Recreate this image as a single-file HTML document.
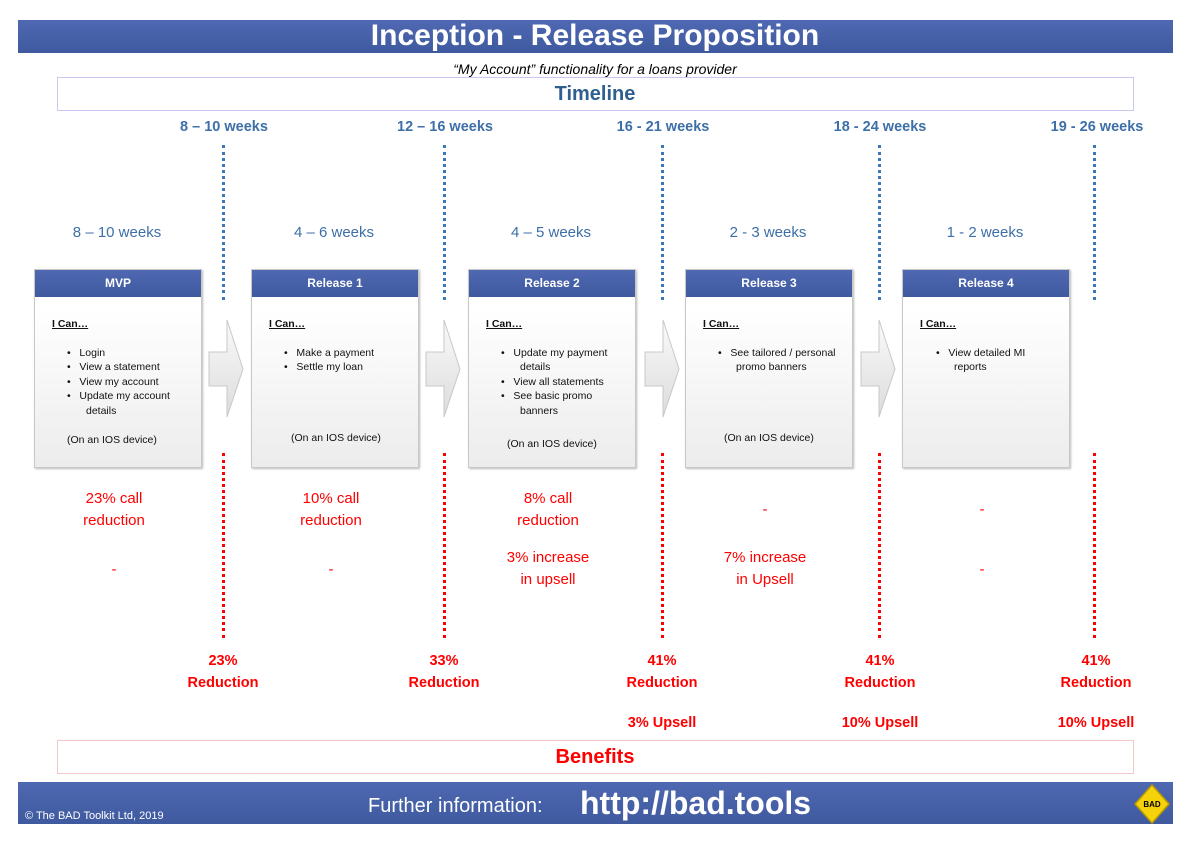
<!DOCTYPE html>
<html><head><meta charset="utf-8"><style>
body{margin:0;width:1190px;height:842px;background:#fff;position:relative;overflow:hidden;font-family:"Liberation Sans",sans-serif}
.a{position:absolute;white-space:nowrap}
.c{transform:translateX(-50%)}
.bar{position:absolute;background:linear-gradient(#4f68b2,#3f5a9f);}
.bw{color:#3d6fa8;font-size:14.5px;font-weight:bold}
.sw{color:#3d6fa8;font-size:15px}
.r{color:#f00;font-size:15px;text-align:center;line-height:22px}
.rb{color:#f00;font-size:14.5px;font-weight:bold;text-align:center;line-height:22px}
.vb{position:absolute;width:0;border-left:3px dotted #3a78b8}
.vr{position:absolute;width:0;border-left:3px dotted #f00}
.box{position:absolute;width:166px;height:197px;border:1px solid #c8c8c8;background:linear-gradient(#fff 20%,#ececec);box-shadow:1px 1px 2px #bbb}
.hd{height:27px;background:linear-gradient(#4f68b2,#3f5a9f);color:#fff;font-weight:bold;font-size:12px;text-align:center;line-height:27px}
.t{position:absolute;font-size:10.5px;white-space:nowrap;color:#111}
.u{text-decoration:underline;font-weight:bold}
</style></head><body>
<div class="bar" style="left:18px;top:20px;width:1155px;height:33px"></div>
<div class="a c" style="left:595px;top:19px;color:#fff;font-weight:bold;font-size:30px">Inception - Release Proposition</div>
<div class="a c" style="left:595px;top:61px;font-style:italic;font-size:14px">“My Account” functionality for a loans provider</div>
<div class="a" style="left:57px;top:77px;width:1075px;height:32px;border:1px solid #c8c8f0"></div>
<div class="a c" style="left:595px;top:83px;color:#2f5f8f;font-weight:bold;font-size:20px">Timeline</div>

<div class="a c bw" style="left:224px;top:119px">8 – 10 weeks</div>
<div class="a c bw" style="left:445px;top:119px">12 – 16 weeks</div>
<div class="a c bw" style="left:663px;top:119px">16 - 21 weeks</div>
<div class="a c bw" style="left:880px;top:119px">18 - 24 weeks</div>
<div class="a c bw" style="left:1097px;top:119px">19 - 26 weeks</div>

<div class="vb" style="left:222px;top:145px;height:155px"></div>
<div class="vb" style="left:443px;top:145px;height:155px"></div>
<div class="vb" style="left:661px;top:145px;height:155px"></div>
<div class="vb" style="left:878px;top:145px;height:155px"></div>
<div class="vb" style="left:1093px;top:145px;height:155px"></div>

<div class="a c sw" style="left:117px;top:224px">8 – 10 weeks</div>
<div class="a c sw" style="left:334px;top:224px">4 – 6 weeks</div>
<div class="a c sw" style="left:551px;top:224px">4 – 5 weeks</div>
<div class="a c sw" style="left:768px;top:224px">2 - 3 weeks</div>
<div class="a c sw" style="left:985px;top:224px">1 - 2 weeks</div>

<div class="vr" style="left:222px;top:453px;height:185px"></div>
<div class="vr" style="left:443px;top:453px;height:185px"></div>
<div class="vr" style="left:661px;top:453px;height:185px"></div>
<div class="vr" style="left:878px;top:453px;height:185px"></div>
<div class="vr" style="left:1093px;top:453px;height:185px"></div>

<div class="box" style="left:34px;top:269px"><div class="hd">MVP</div>
<div class="t u" style="left:17px;top:48px">I Can…</div>
<div class="t" style="left:32px;top:77px">•&nbsp;&nbsp;&nbsp;Login</div>
<div class="t" style="left:32px;top:91px">•&nbsp;&nbsp;&nbsp;View a statement</div>
<div class="t" style="left:32px;top:106px">•&nbsp;&nbsp;&nbsp;View my account</div>
<div class="t" style="left:32px;top:120px">•&nbsp;&nbsp;&nbsp;Update my account</div>
<div class="t" style="left:51px;top:135px">details</div>
<div class="t" style="left:32px;top:164px">(On an IOS device)</div>
</div>
<div class="box" style="left:251px;top:269px"><div class="hd">Release 1</div>
<div class="t u" style="left:17px;top:48px">I Can…</div>
<div class="t" style="left:32px;top:77px">•&nbsp;&nbsp;&nbsp;Make a payment</div>
<div class="t" style="left:32px;top:91px">•&nbsp;&nbsp;&nbsp;Settle my loan</div>
<div class="t" style="left:39px;top:162px">(On an IOS device)</div>
</div>
<div class="box" style="left:468px;top:269px"><div class="hd">Release 2</div>
<div class="t u" style="left:17px;top:48px">I Can…</div>
<div class="t" style="left:32px;top:77px">•&nbsp;&nbsp;&nbsp;Update my payment</div>
<div class="t" style="left:51px;top:91px">details</div>
<div class="t" style="left:32px;top:106px">•&nbsp;&nbsp;&nbsp;View all statements</div>
<div class="t" style="left:32px;top:120px">•&nbsp;&nbsp;&nbsp;See basic promo</div>
<div class="t" style="left:51px;top:135px">banners</div>
<div class="t" style="left:38px;top:168px">(On an IOS device)</div>
</div>
<div class="box" style="left:685px;top:269px"><div class="hd">Release 3</div>
<div class="t u" style="left:17px;top:48px">I Can…</div>
<div class="t" style="left:32px;top:77px">•&nbsp;&nbsp;&nbsp;See tailored / personal</div>
<div class="t" style="left:50px;top:91px">promo banners</div>
<div class="t" style="left:38px;top:162px">(On an IOS device)</div>
</div>
<div class="box" style="left:902px;top:269px"><div class="hd">Release 4</div>
<div class="t u" style="left:17px;top:48px">I Can…</div>
<div class="t" style="left:33px;top:77px">•&nbsp;&nbsp;&nbsp;View detailed MI</div>
<div class="t" style="left:51px;top:91px">reports</div>
</div>

<svg class="a" style="left:0;top:0" width="1190" height="842">
<defs><linearGradient id="g" x1="0" y1="0" x2="0" y2="1"><stop offset="0" stop-color="#fafafa"/><stop offset="1" stop-color="#dcdcdc"/></linearGradient></defs>
<g fill="url(#g)" stroke="#c8c8c8" stroke-width="1">
<polygon points="209,352 227,352 227,320 243,369 227,417 227,386 209,386"/>
<polygon points="426,352 444,352 444,320 460,369 444,417 444,386 426,386"/>
<polygon points="645,352 663,352 663,320 679,369 663,417 663,386 645,386"/>
<polygon points="861,352 879,352 879,320 895,369 879,417 879,386 861,386"/>
</g></svg>

<div class="a c r" style="left:114px;top:488px">23% call<br>reduction</div>
<div class="a c r" style="left:114px;top:559px">-</div>
<div class="a c r" style="left:331px;top:488px">10% call<br>reduction</div>
<div class="a c r" style="left:331px;top:559px">-</div>
<div class="a c r" style="left:548px;top:488px">8% call<br>reduction</div>
<div class="a c r" style="left:548px;top:547px">3% increase<br>in upsell</div>
<div class="a c r" style="left:765px;top:499px">-</div>
<div class="a c r" style="left:765px;top:547px">7% increase<br>in Upsell</div>
<div class="a c r" style="left:982px;top:499px">-</div>
<div class="a c r" style="left:982px;top:559px">-</div>

<div class="a c rb" style="left:223px;top:650px">23%<br>Reduction</div>
<div class="a c rb" style="left:444px;top:650px">33%<br>Reduction</div>
<div class="a c rb" style="left:662px;top:650px">41%<br>Reduction</div>
<div class="a c rb" style="left:880px;top:650px">41%<br>Reduction</div>
<div class="a c rb" style="left:1096px;top:650px">41%<br>Reduction</div>
<div class="a c rb" style="left:662px;top:712px">3% Upsell</div>
<div class="a c rb" style="left:880px;top:712px">10% Upsell</div>
<div class="a c rb" style="left:1096px;top:712px">10% Upsell</div>

<div class="a" style="left:57px;top:740px;width:1075px;height:32px;border:1px solid #f5c8c8"></div>
<div class="a c" style="left:595px;top:746px;color:#f00;font-weight:bold;font-size:20px">Benefits</div>

<div class="bar" style="left:18px;top:782px;width:1155px;height:42px"></div>
<div class="a" style="left:25px;top:810px;color:#fff;font-size:11px">© The BAD Toolkit Ltd, 2019</div>
<div class="a" style="left:368px;top:795px;color:#fff;font-size:20px">Further information:</div>
<div class="a" style="left:580px;top:785px;color:#fff;font-size:32px;font-weight:bold">http://bad.tools</div>
<svg class="a" style="left:1133px;top:784px" width="38" height="40"><polygon points="19,1 36,20 19,39 2,20" fill="#f5d20a" stroke="#b89a00" stroke-width="1.5"/><text x="19" y="23" font-size="8" font-weight="bold" text-anchor="middle" font-family="Liberation Sans">BAD</text></svg>
</body></html>
